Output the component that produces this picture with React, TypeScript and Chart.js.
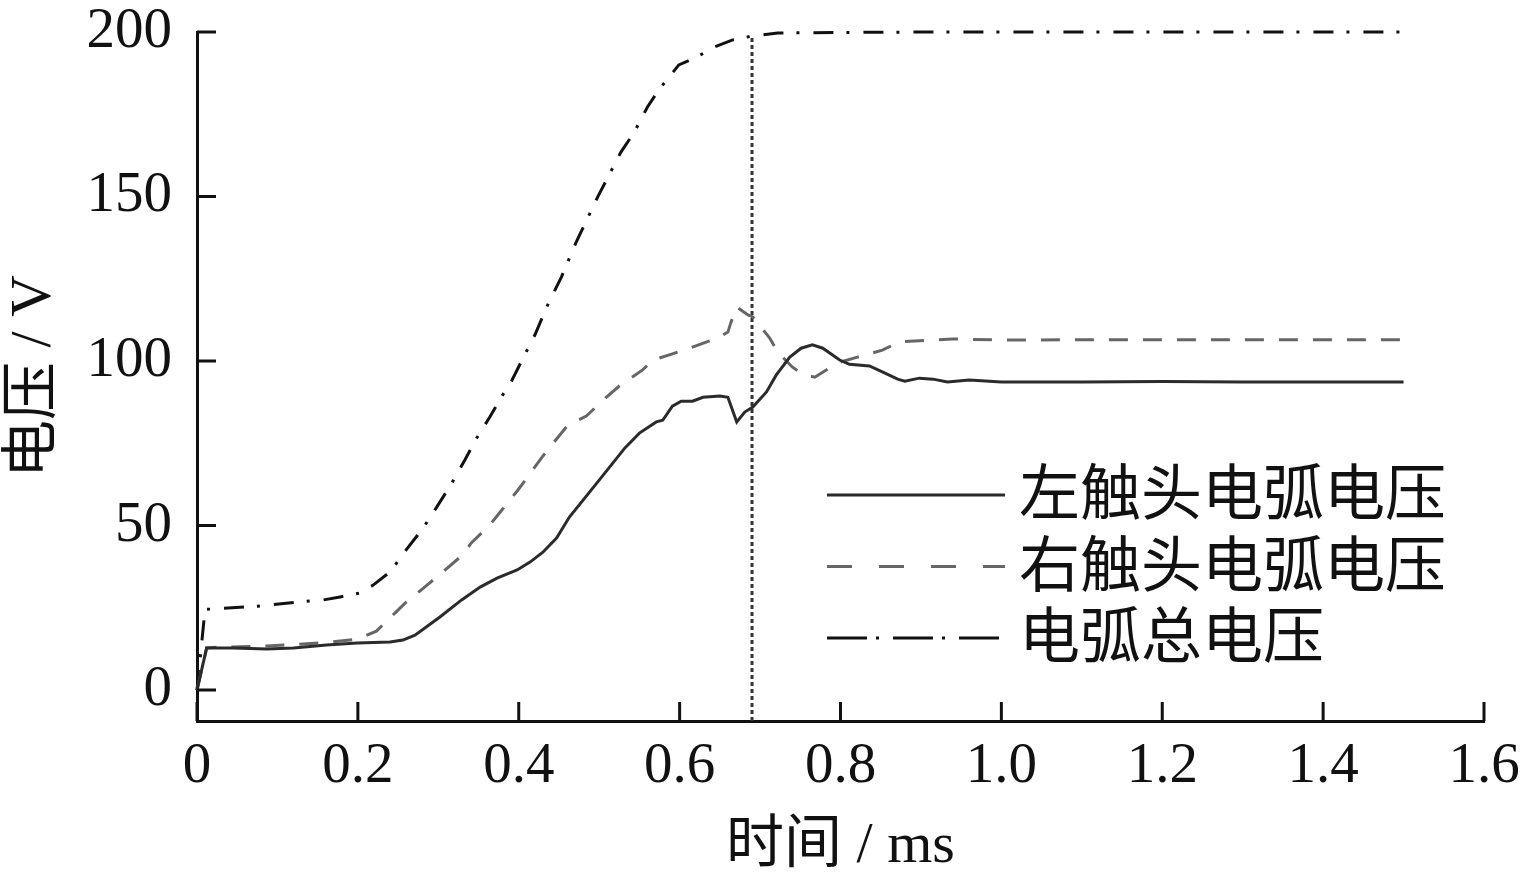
import { useEffect, useRef } from 'react'
import { Chart, ChartConfiguration, Plugin, registerables } from 'chart.js'

Chart.register(...registerables)

// 坐标轴刻度
const xTicks = [0, 0.2, 0.4, 0.6, 0.8, 1.0, 1.2, 1.4, 1.6]
const yTicks = [0, 50, 100, 150, 200]
const Y_MIN = -9.4

// 左触头电弧电压
const leftT = [0, 0.012, 0.045, 0.087, 0.12, 0.161, 0.199, 0.24, 0.256, 0.271, 0.302, 0.329, 0.352, 0.373, 0.398, 0.414, 0.43, 0.447, 0.463, 0.5, 0.532, 0.55, 0.571, 0.579, 0.591, 0.602, 0.616, 0.629, 0.65, 0.66, 0.671, 0.681, 0.691, 0.708, 0.72, 0.737, 0.751, 0.765, 0.778, 0.799, 0.811, 0.836, 0.852, 0.871, 0.88, 0.898, 0.915, 0.933, 0.96, 1.0, 1.1, 1.2, 1.3, 1.4, 1.5]
const leftV = [0, 12.8, 12.8, 12.5, 12.8, 13.7, 14.3, 14.6, 15.2, 16.7, 22.2, 27.4, 31.3, 34, 36.5, 38.9, 41.9, 46.2, 52.6, 63.8, 73.6, 78.1, 81.5, 82, 86.3, 87.8, 87.8, 89, 89.4, 89, 81.5, 84.5, 86, 90.6, 95.7, 101.2, 103.9, 104.9, 103.9, 100.3, 99, 98.5, 96.7, 94.5, 93.9, 94.8, 94.5, 93.6, 94.2, 93.6, 93.6, 93.8, 93.6, 93.6, 93.6]

// 右触头电弧电压
const rightT = [0, 0.012, 0.025, 0.087, 0.153, 0.2, 0.223, 0.246, 0.26, 0.286, 0.304, 0.33, 0.341, 0.364, 0.376, 0.399, 0.41, 0.429, 0.441, 0.461, 0.484, 0.509, 0.525, 0.554, 0.567, 0.59, 0.612, 0.647, 0.66, 0.664, 0.671, 0.685, 0.691, 0.712, 0.722, 0.74, 0.753, 0.768, 0.796, 0.821, 0.852, 0.873, 0.915, 0.939, 1.0, 1.2, 1.5]
const rightV = [0, 12.8, 13, 13.4, 14.3, 15.5, 17.9, 23.4, 26.7, 31.9, 35.6, 41, 44.7, 50.2, 53.8, 60.8, 64.4, 70.8, 74.5, 80.5, 83.3, 89, 92.4, 97.3, 100.3, 102.1, 103.9, 107, 108.8, 111.9, 116.4, 114, 113.4, 107, 102.7, 98.2, 96, 95.1, 99.4, 101.2, 103.3, 105.8, 106.4, 106.7, 106.4, 106.5, 106.5]

// 电弧总电压
const totalT = [0, 0.01, 0.016, 0.075, 0.124, 0.157, 0.178, 0.203, 0.219, 0.24, 0.26, 0.281, 0.298, 0.316, 0.333, 0.347, 0.364, 0.38, 0.391, 0.411, 0.42, 0.437, 0.453, 0.471, 0.498, 0.527, 0.543, 0.56, 0.574, 0.599, 0.619, 0.643, 0.666, 0.691, 0.722, 0.76, 0.9, 1.2, 1.5]
const totalV = [0, 24.5, 24.6, 25.5, 26.7, 27.4, 28.3, 29.5, 31.9, 35.9, 42.6, 49.2, 55.6, 62.6, 69.9, 76.3, 83, 89.7, 93.9, 103.6, 107.9, 117.6, 125.5, 135.9, 149.8, 163.5, 169.3, 177.2, 182.4, 190, 192.1, 195.4, 197.6, 198.8, 199.7, 199.8, 200, 200, 200]

// 竖直虚线（燃弧时刻）
const markerT = [0.69, 0.69]
const markerV = [Y_MIN, 198.8]

const seriesLabels = ['左触头电弧电压', '右触头电弧电压', '电弧总电压']
const seriesColors = ['#2b2b2b', '#666666', '#111111']
const seriesDash = [[], [19, 15], [20, 13, 3, 14]]
const legendDash = [[], [25, 27], [40, 9, 3, 14]]

const toPoints = (t: number[], v: number[]) => t.map((x, i) => ({ x, y: v[i] }))

const inwardTicks: Plugin = {
  id: 'inwardTicks',
  afterDatasetsDraw(chart) {
    const { ctx, chartArea, scales } = chart
    ctx.save()
    ctx.strokeStyle = '#111'
    ctx.lineWidth = 3
    ctx.beginPath()
    for (const v of xTicks) {
      const px = scales.x.getPixelForValue(v)
      ctx.moveTo(px, chartArea.bottom)
      ctx.lineTo(px, chartArea.bottom - 19)
    }
    for (const v of yTicks) {
      const py = scales.y.getPixelForValue(v)
      ctx.moveTo(chartArea.left, py)
      ctx.lineTo(chartArea.left + 19, py)
    }
    ctx.stroke()
    ctx.restore()
  },
}

const lineLegend: Plugin = {
  id: 'lineLegend',
  afterDraw(chart) {
    const { ctx, chartArea } = chart
    const x0 = chartArea.left + 630
    const x1 = x0 + 178
    const y0 = chartArea.top + 463
    ctx.save()
    seriesLabels.forEach((label, i) => {
      const y = y0 + i * 71.5
      ctx.strokeStyle = seriesColors[i]
      ctx.lineWidth = 3
      ctx.setLineDash(legendDash[i])
      ctx.beginPath()
      ctx.moveTo(x0, y)
      ctx.lineTo(x1, y)
      ctx.stroke()
      ctx.setLineDash([])
      ctx.fillStyle = '#111'
      ctx.font = '61px "Noto Sans CJK SC"'
      ctx.textBaseline = 'middle'
      ctx.textAlign = 'left'
      ctx.fillText(label, x1 + 14, y - 3)
    })
    ctx.restore()
  },
}

export default function App() {
  const canvasRef = useRef<HTMLCanvasElement>(null)
  const chartRef = useRef<Chart | null>(null)

  useEffect(() => {
    if (!canvasRef.current) return
    const ctx = canvasRef.current.getContext('2d')
    if (!ctx) return
    if (chartRef.current) chartRef.current.destroy()

    const tickFont = { family: '"Liberation Serif", "Times New Roman", serif', size: 57, lineHeight: 1 }
    const titleFont = { family: '"Liberation Serif", "Noto Sans CJK SC", serif', size: 58, lineHeight: 1.2 }

    const config: ChartConfiguration = {
      type: 'line',
      data: {
        datasets: [
          {
            label: seriesLabels[0],
            data: toPoints(leftT, leftV),
            borderColor: seriesColors[0],
            borderDash: seriesDash[0],
          },
          {
            label: seriesLabels[1],
            data: toPoints(rightT, rightV),
            borderColor: seriesColors[1],
            borderDash: seriesDash[1],
          },
          {
            label: seriesLabels[2],
            data: toPoints(totalT, totalV),
            borderColor: seriesColors[2],
            borderDash: seriesDash[2],
          },
          {
            label: 'marker',
            data: toPoints(markerT, markerV),
            borderColor: '#333',
            borderDash: [4, 3],
          },
        ].map((ds) => ({
          ...ds,
          borderWidth: 3,
          pointRadius: 0,
          tension: 0,
          fill: false,
          clip: false as const,
        })),
      },
      options: {
        animation: false,
        responsive: true,
        maintainAspectRatio: false,
        layout: { padding: { top: 32, right: 39, left: 0, bottom: 0 } },
        plugins: {
          legend: { display: false },
          tooltip: { enabled: false },
        },
        scales: {
          x: {
            type: 'linear',
            min: 0,
            max: 1.6,
            afterBuildTicks: (s) => {
              s.ticks = xTicks.map((value) => ({ value }))
            },
            afterFit: (s) => {
              s.height = 168
              s.paddingLeft = 0
              s.paddingRight = 0
            },
            grid: { display: false, drawTicks: false },
            border: { display: true, color: '#111', width: 3 },
            ticks: {
              autoSkip: false,
              maxRotation: 0,
              padding: 18,
              color: '#111',
              font: tickFont,
              callback: (v) => (Number(v) === 0 ? '0' : Number(v).toFixed(1)),
            },
            title: {
              display: true,
              text: '时间 / ms',
              color: '#111',
              font: titleFont,
              padding: { top: 0, bottom: 7 },
            },
          },
          y: {
            type: 'linear',
            min: Y_MIN,
            max: 200,
            afterBuildTicks: (s) => {
              s.ticks = yTicks.map((value) => ({ value }))
            },
            afterFit: (s) => {
              s.width = 197
              s.paddingTop = 0
              s.paddingBottom = 0
            },
            grid: { display: false, drawTicks: false },
            border: { display: true, color: '#111', width: 3 },
            ticks: {
              autoSkip: false,
              padding: 25,
              color: '#111',
              font: tickFont,
              callback: (v) => String(v),
            },
            title: {
              display: true,
              text: '电压 / V',
              color: '#111',
              font: titleFont,
              padding: { top: 0, bottom: 0 },
            },
          },
        },
      },
      plugins: [inwardTicks, lineLegend],
    }

    chartRef.current = new Chart(ctx, config)

    return () => {
      chartRef.current?.destroy()
      chartRef.current = null
    }
  }, [])

  return (
    <div style={{ position: 'fixed', left: 0, top: 0, width: 1523, height: 889, background: '#fff' }}>
      <canvas ref={canvasRef} />
    </div>
  )
}
